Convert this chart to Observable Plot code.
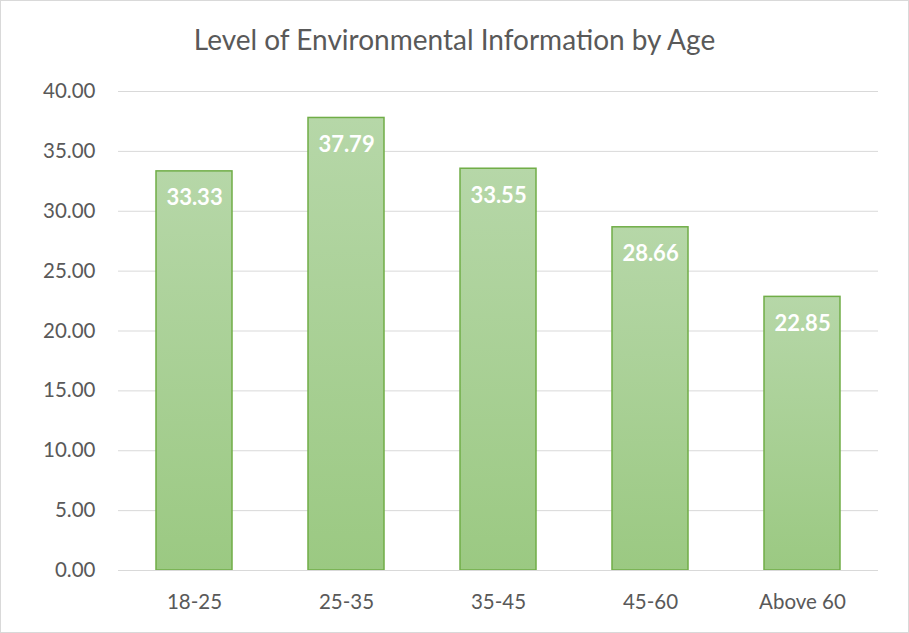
<!DOCTYPE html>
<html>
<head>
<meta charset="utf-8">
<script src="https://cdn.jsdelivr.net/npm/d3@7"></script>
<script src="https://cdn.jsdelivr.net/npm/@observablehq/plot@0.6"></script>
<style>
  body { margin: 0; background: #fff; }
  #chart { position: relative; width: 909px; height: 633px; font-family: Lato, "Open Sans", sans-serif; }
  #title { height: 70px; box-sizing: border-box; padding-top: 23px; text-align: center; font-size: 28px; line-height: 32px; color: #595959; }
  #border { position: absolute; left: 0; top: 0; width: 909px; height: 633px; box-sizing: border-box; border: 1px solid #d9d9d9; pointer-events: none; }
  svg { display: block; }
</style>
</head>
<body>
<div id="chart">
  <div id="title">Level of Environmental Information by Age</div>
  <div id="border"></div>
</div>
<script>
const categories = ["18-25", "25-35", "35-45", "45-60", "Above 60"];
const values = [33.33, 37.79, 33.55, 28.66, 22.85];
const yTicks = [0, 5, 10, 15, 20, 25, 30, 35, 40];

const data = categories.map((c, i) => ({category: c, value: values[i]}));

const plot = Plot.plot({
  width: 909,
  height: 563,
  marginTop: 21,
  marginBottom: 63,
  marginLeft: 118,
  marginRight: 31,
  style: {fontFamily: "Lato, 'Open Sans', sans-serif", fontSize: "20.5px", color: "#595959", background: "transparent"},
  x: {domain: categories, paddingInner: 0.5, paddingOuter: 0.25, label: null, tickSize: 0, tickPadding: 24},
  y: {domain: [0, 40], ticks: yTicks, tickFormat: d => d.toFixed(2), label: null, tickSize: 0, tickPadding: 23},
  marks: [
    Plot.ruleY(yTicks, {stroke: "#d9d9d9", strokeWidth: 1}),
    Plot.barY(data, {x: "category", y: "value", fill: "url(#barGrad)", stroke: "#70ad47", strokeWidth: 1.5}),
    Plot.text(data, {x: "category", y: "value", text: d => d.value.toFixed(2), dy: 27, fill: "white", fontWeight: "bold", fontSize: 22}),
    Plot.ruleY([0], {stroke: "#d9d9d9", strokeWidth: 1.2})
  ]
});

const ns = "http://www.w3.org/2000/svg";
const defs = document.createElementNS(ns, "defs");
defs.innerHTML = `<linearGradient id="barGrad" x1="0" y1="0" x2="0" y2="1">
  <stop offset="0" stop-color="#b6d7a8"/>
  <stop offset="1" stop-color="#9bc982"/>
</linearGradient>`;
plot.insertBefore(defs, plot.firstChild);
plot.querySelectorAll("[aria-label='y-axis tick label'] text, [aria-label='x-axis tick label'] text").forEach(t => t.setAttribute("fill", "#595959"));
document.getElementById("chart").insertBefore(plot, document.getElementById("border"));
</script>
</body>
</html>
